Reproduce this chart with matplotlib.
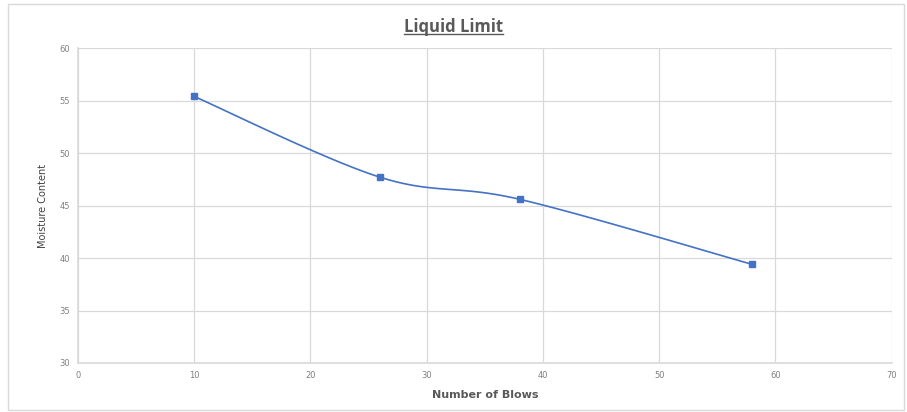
import matplotlib.pyplot as plt
import numpy as np
from matplotlib.patches import Rectangle

# data
blows = [10, 26, 38, 58]
moisture = [55.4, 47.7, 45.6, 39.4]

x_ticks = [0, 10, 20, 30, 40, 50, 60, 70]
y_ticks = [30, 35, 40, 45, 50, 55, 60]


# Excel-style smoothed line (Catmull-Rom through the points)
def smooth_line(xs, ys, steps=40):
    p = np.column_stack([xs, ys]).astype(float)
    p = np.vstack([p[0], p, p[-1]])
    out = []
    for i in range(1, len(p) - 2):
        p0, p1, p2, p3 = p[i - 1], p[i], p[i + 1], p[i + 2]
        t = np.linspace(0, 1, steps)[:, None]
        seg = 0.5 * ((2 * p1) + (-p0 + p2) * t + (2 * p0 - 5 * p1 + 4 * p2 - p3) * t**2
                     + (-p0 + 3 * p1 - 3 * p2 + p3) * t**3)
        out.append(seg)
    out = np.vstack(out)
    return out[:, 0], out[:, 1]


fig = plt.figure(figsize=(9.07, 4.12), dpi=100)
ax = fig.add_axes([0.086, 0.119, 0.897, 0.764])

sx, sy = smooth_line(blows, moisture)
ax.plot(sx, sy, color="#4472C4", lw=1.2, zorder=3)
ax.plot(blows, moisture, "s", color="#4472C4", ms=4, zorder=4)

ax.set_xlim(0, 70)
ax.set_ylim(30, 60)
ax.set_xticks(x_ticks)
ax.set_yticks(y_ticks)
ax.tick_params(length=0, labelsize=6, colors="#808080", pad=6)
ax.grid(True, color="#D9D9D9", lw=0.9)
for s in ["top", "right"]:
    ax.spines[s].set_visible(False)
for s in ["left", "bottom"]:
    ax.spines[s].set_color("#D9D9D9")
    ax.spines[s].set_linewidth(1.2)

ax.set_xlabel("Number of Blows", fontsize=8, fontweight="bold", color="#595959", labelpad=7)
ax.set_ylabel("Moisture Content", fontsize=7, color="#404040", labelpad=8)

t = fig.text(0.5, 0.935, "Liquid Limit", ha="center", va="center", fontsize=12,
             fontweight="bold", color="#595959", family="Open Sans")
fig.canvas.draw()
bb = t.get_window_extent().transformed(fig.transFigure.inverted())
fig.add_artist(plt.Line2D([bb.x0, bb.x1], [bb.y0 + 0.004, bb.y0 + 0.004],
                          transform=fig.transFigure, color="#595959", lw=1))

fig.add_artist(Rectangle((0.009, 0.005), 0.988, 0.985, transform=fig.transFigure,
                         fill=False, edgecolor="#D9D9D9", lw=1))

fig.savefig("out.png", dpi=100)
